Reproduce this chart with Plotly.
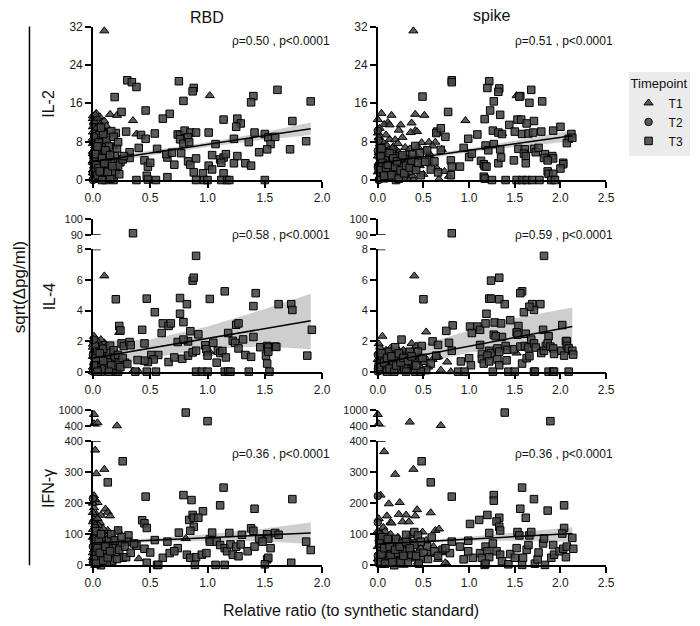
import plotly.graph_objects as go

W, H = 700, 626
FONT = "Arial, 'Liberation Sans', sans-serif"


def px(x):
    return x / W


def py(y):
    return 1 - y / H


# ---------------- DATA (x = relative ratio, y = sqrt(delta pg/ml)) ----------------
panel_titles = ["RBD", "spike"]
row_labels = ["IL-2", "IL-4", "IFN-γ"]
stats_text = ["ρ=0.50 , p<0.0001", "ρ=0.51 , p<0.0001",
              "ρ=0.58 , p<0.0001", "ρ=0.59 , p<0.0001",
              "ρ=0.36 , p<0.0001", "ρ=0.36 , p<0.0001"]
x_ticks_left = [0, 0.5, 1.0, 1.5, 2.0]
x_ticks_right = [0, 0.5, 1.0, 1.5, 2.0, 2.5]
il2_ticks = [0, 8, 16, 24, 32]
il4_ticks_low = [0, 2, 4, 6, 8]
il4_ticks_high = [90, 100]
ifn_ticks_low = [0, 100, 200, 300, 400]
ifn_ticks_high = [400, 1000]

# ---- IL-2 / RBD ----
il2_rbd_t1 = [(0.10, 31.1), (1.02, 17.6), (0.35, 12.4), (0.15, 13.7), (0.21, 13.5), (0.10, 12.3), (0.38, 9.6),
              (0.11, 10.1), (0.13, 7.9), (0.18, 7.0), (0.03, 13.9), (0.06, 13.2), (0.00, 12.8), (0.01, 11.9),
              (0.02, 11.2), (0.04, 10.6), (0.00, 10.0), (0.05, 9.4), (0.01, 8.9), (0.03, 8.3), (0.07, 8.0),
              (0.00, 7.6), (0.02, 7.1), (0.08, 6.8), (0.01, 6.3), (0.04, 5.9), (0.00, 5.5), (0.06, 5.1),
              (0.02, 4.7), (0.09, 4.4), (0.00, 4.0), (0.03, 3.6), (0.05, 3.2), (0.01, 2.9), (0.12, 2.5),
              (0.00, 2.1), (0.04, 1.7), (0.02, 1.3), (0.07, 0.9), (0.00, 0.5), (0.03, 0.1), (0.10, 0.0),
              (0.05, 12.1), (0.08, 10.9), (0.06, 9.1), (0.11, 6.0), (0.14, 4.8), (0.09, 1.9), (0.16, 3.3),
              (0.13, 0.6), (0.02, 0.0), (0.06, 0.0), (0.80, 8.2)]
il2_rbd_t1_near0 = [(0.00, 13.4), (0.01, 12.2), (0.02, 10.0), (0.03, 9.5), (0.00, 8.7), (0.01, 7.9), (0.04, 7.3),
                    (0.02, 6.5), (0.00, 6.0), (0.05, 5.6), (0.01, 4.9), (0.03, 4.4), (0.00, 3.7), (0.02, 3.2),
                    (0.06, 2.7), (0.01, 2.3), (0.04, 1.9), (0.00, 1.5), (0.03, 1.1), (0.05, 0.7), (0.01, 0.3),
                    (0.08, 3.9), (0.07, 5.6), (0.09, 7.4), (0.06, 11.4), (0.04, 12.9), (0.02, 13.6), (0.10, 9.0),
                    (0.11, 8.5), (0.12, 11.2), (0.08, 1.4), (0.07, 0.2), (0.00, 11.1), (0.03, 10.8), (0.05, 9.9),
                    (0.02, 8.1), (0.04, 6.8), (0.06, 4.1), (0.01, 1.9), (0.09, 2.9)]
il2_rbd_t2 = [(0.00, 5.3), (0.01, 3.0), (0.02, 7.4), (0.00, 1.4), (0.03, 0.3), (0.01, 9.1), (0.04, 2.2), (0.00, 0.0)]
il2_rbd_t3 = [(0.30, 20.8), (0.34, 20.4), (0.38, 19.4), (0.75, 20.6), (0.88, 19.2), (0.87, 18.5), (0.79, 16.5),
              (0.19, 17.3), (0.46, 14.5), (0.25, 14.2), (0.67, 13.8), (0.61, 12.8), (1.14, 12.6), (1.26, 12.8),
              (1.29, 11.8), (1.25, 11.1), (1.40, 17.5), (1.38, 16.2), (1.61, 18.8), (1.90, 16.4), (1.74, 12.3),
              (0.29, 10.1), (0.54, 9.7), (0.42, 9.4), (0.46, 8.6), (0.74, 9.5), (0.76, 9.4), (0.80, 10.3),
              (0.85, 9.9), (0.90, 9.9), (0.76, 8.5), (0.79, 7.6), (0.83, 8.9), (0.84, 7.9), (1.01, 9.9),
              (1.07, 7.5), (1.23, 8.6), (1.41, 9.9), (1.50, 9.6), (1.53, 8.9), (1.55, 7.5), (1.59, 9.0),
              (1.36, 7.9), (1.45, 5.8), (1.52, 6.4), (1.72, 6.4), (1.86, 8.1), (0.32, 5.8), (0.40, 6.7),
              (0.56, 6.5), (0.65, 4.7), (0.64, 5.4), (0.69, 5.7), (0.77, 5.6), (0.83, 3.9), (0.85, 3.2),
              (0.90, 4.5), (0.71, 3.2), (1.01, 3.0), (1.04, 2.2), (1.04, 5.2), (1.11, 4.3), (1.14, 4.7),
              (1.12, 3.6), (1.16, 5.4), (1.23, 3.5), (1.26, 5.0), (1.33, 3.5), (1.38, 3.0), (0.45, 4.1),
              (0.48, 2.8), (0.50, 3.6), (0.24, 3.7), (0.20, 2.1), (0.32, 4.6), (0.88, 1.6), (0.96, 1.4),
              (1.14, 1.4), (0.18, 0.0), (0.38, 0.0), (0.47, 0.9), (0.48, 0.1), (0.55, 0.0), (0.65, 0.6),
              (0.90, 0.0), (0.97, 0.0), (1.00, 0.0), (1.12, 0.0), (1.17, 0.0), (1.19, 0.0), (1.50, 0.0),
              (0.18, 0.7), (0.02, 2.2), (0.05, 4.4), (0.08, 3.1), (0.10, 1.2), (0.12, 5.6), (0.14, 2.4),
              (0.16, 3.9), (0.06, 0.5), (0.09, 6.8), (0.04, 1.0), (0.11, 0.0), (0.15, 0.3), (0.13, 4.9),
              (0.07, 2.8), (0.03, 6.1), (0.17, 1.8), (0.19, 5.0), (0.20, 9.8), (0.16, 10.2), (0.22, 3.0),
              (0.01, 3.6), (0.05, 7.8), (0.12, 8.4), (0.08, 0.0), (0.14, 7.0)]
il2_rbd_t3_near0 = [(0.01, 4.7), (0.03, 3.3), (0.05, 2.5), (0.02, 5.4), (0.04, 7.0), (0.06, 1.8), (0.08, 4.6),
                    (0.10, 3.5), (0.11, 6.2), (0.13, 1.7), (0.15, 5.2), (0.17, 2.9), (0.21, 6.6), (0.23, 1.2),
                    (0.26, 4.3), (0.18, 9.0), (0.22, 7.9), (0.27, 5.0), (0.09, 9.6), (0.07, 10.9)]

# ---- IL-2 / spike ----
il2_spike_t1 = [(0.39, 31.1), (1.52, 17.6), (0.96, 12.4), (0.04, 13.9), (0.00, 12.6), (0.15, 13.5), (0.11, 12.0),
                (0.07, 11.6), (0.13, 11.5), (0.25, 11.5), (0.23, 10.4), (0.41, 13.7), (0.51, 13.5), (0.37, 11.9),
                (0.41, 10.3), (0.43, 10.1), (0.36, 9.9), (0.27, 8.9), (0.13, 8.5), (0.19, 8.4), (0.48, 7.8),
                (0.56, 7.9), (0.63, 7.9), (0.65, 2.4), (0.73, 1.8), (0.67, 0.2), (0.78, 0.8), (0.28, 0.2),
                (0.33, 0.2), (0.39, 0.1), (1.36, 9.7), (0.35, 4.0), (0.45, 4.3), (0.57, 5.4), (0.17, 7.0),
                (0.21, 6.1), (0.30, 6.8), (0.09, 9.4), (0.02, 10.8), (0.05, 8.0), (0.10, 7.2), (0.20, 5.2),
                (0.27, 3.6), (0.14, 4.6), (0.32, 2.7), (0.24, 1.8), (0.18, 0.9), (0.06, 3.3), (0.01, 5.7),
                (0.03, 2.1), (0.08, 0.4), (0.12, 6.3), (0.22, 7.6), (0.44, 6.9), (0.52, 6.2), (0.60, 7.1),
                (0.70, 6.4), (0.29, 5.0), (0.38, 3.2), (0.16, 2.8)]
il2_spike_t1_near0 = [(0.00, 9.8), (0.01, 8.9), (0.02, 7.5), (0.03, 6.8), (0.00, 5.0), (0.04, 4.3), (0.01, 3.6),
                      (0.05, 2.6), (0.00, 1.7), (0.02, 0.8), (0.06, 0.0), (0.07, 6.2), (0.08, 4.8), (0.09, 3.0),
                      (0.10, 1.6), (0.11, 5.5), (0.12, 2.4), (0.14, 0.6), (0.15, 3.9), (0.16, 6.6), (0.18, 2.2),
                      (0.19, 4.2), (0.21, 1.3), (0.22, 3.3), (0.23, 5.8), (0.26, 2.5), (0.28, 4.6), (0.31, 1.5),
                      (0.33, 5.4), (0.35, 6.5), (0.38, 0.9), (0.40, 2.3), (0.42, 5.1), (0.46, 3.0), (0.50, 1.2)]
il2_spike_t2 = [(0.00, 10.3), (0.01, 8.2), (0.00, 6.1), (0.02, 4.5), (0.00, 2.7), (0.03, 1.2), (0.01, 0.0), (0.05, 5.2)]
il2_spike_t3 = [(0.81, 20.8), (0.81, 20.4), (1.22, 20.6), (1.20, 19.2), (1.33, 19.1), (1.32, 18.4), (1.68, 18.8),
                (1.27, 16.4), (1.56, 17.5), (1.55, 17.4), (1.66, 16.1), (1.80, 16.4), (0.49, 17.4), (0.77, 14.2),
                (1.23, 14.5), (1.34, 13.6), (1.17, 12.7), (1.53, 12.6), (1.57, 12.6), (1.71, 12.3), (1.63, 11.8),
                (1.44, 11.5), (2.00, 11.1), (0.65, 10.1), (0.64, 9.8), (0.69, 10.8), (0.74, 9.0), (0.99, 8.6),
                (1.09, 9.5), (1.26, 10.3), (1.32, 9.9), (1.36, 9.6), (1.50, 10.1), (1.58, 9.6), (1.65, 9.7),
                (1.70, 9.9), (1.79, 10.1), (1.92, 10.3), (2.12, 9.6), (2.09, 8.6), (2.07, 7.7), (2.13, 8.8),
                (0.94, 6.7), (1.18, 7.2), (1.21, 6.2), (1.27, 7.5), (1.34, 6.4), (1.54, 6.5), (1.61, 6.4),
                (1.71, 6.5), (1.73, 5.8), (1.76, 6.7), (1.60, 5.5), (1.62, 5.0), (1.83, 5.4), (1.82, 4.6),
                (1.91, 5.0), (1.92, 4.5), (0.41, 7.1), (0.38, 5.3), (0.54, 6.2), (0.56, 4.1), (0.69, 6.3),
                (0.80, 4.1), (0.81, 2.8), (0.90, 2.8), (1.00, 4.8), (1.03, 5.5), (1.13, 4.0), (1.16, 3.3),
                (1.17, 2.9), (1.19, 2.8), (1.32, 3.5), (1.35, 4.7), (1.49, 4.1), (1.62, 3.5), (1.86, 4.1),
                (2.03, 3.6), (2.03, 3.3), (2.00, 2.4), (1.86, 1.8), (1.87, 1.3), (1.92, 1.3), (0.47, 1.0),
                (0.80, 1.0), (1.16, 0.7), (1.17, 0.3), (1.25, 0.0), (1.40, 0.0), (1.52, 0.0), (1.58, 0.0),
                (1.63, 0.0), (1.69, 0.0), (1.77, 0.0), (1.90, 0.0), (1.94, 0.0), (0.02, 3.0), (0.06, 1.5),
                (0.10, 4.1), (0.14, 2.2), (0.18, 3.7), (0.22, 1.1), (0.26, 2.9), (0.30, 4.4), (0.34, 1.9),
                (0.08, 5.8), (0.12, 0.5), (0.04, 6.6), (0.20, 0.0), (0.28, 0.6), (0.16, 5.0), (0.33, 3.4),
                (0.24, 4.9)]
il2_spike_t3_near0 = [(0.01, 2.3), (0.03, 4.9), (0.05, 3.6), (0.07, 0.9), (0.09, 2.6), (0.11, 3.2), (0.13, 5.6),
                      (0.15, 1.0), (0.17, 4.5), (0.19, 2.7), (0.21, 3.9), (0.23, 0.3), (0.25, 2.0), (0.27, 5.2),
                      (0.29, 1.4), (0.31, 3.0), (0.35, 2.6), (0.37, 4.0), (0.42, 2.1), (0.44, 3.6), (0.46, 5.6),
                      (0.52, 3.8), (0.58, 2.2), (0.62, 3.9), (0.66, 1.6)]

# ---- IL-4 / RBD ----
il4_rbd_t1 = [(0.10, 6.27), (0.23, 2.57), (0.01, 2.32), (0.10, 1.89), (0.07, 2.10), (0.35, 0.04), (0.40, 0.0),
              (1.00, 1.20), (1.02, 1.30), (0.00, 1.60), (0.02, 1.20), (0.04, 0.90), (0.01, 0.60), (0.06, 1.40),
              (0.03, 0.30), (0.08, 0.80), (0.00, 0.0), (0.05, 1.90), (0.12, 1.10), (0.02, 0.50), (0.15, 0.70),
              (0.09, 0.20), (0.00, 1.00), (0.04, 1.50), (0.11, 1.60), (0.06, 0.0), (0.13, 0.40), (0.17, 1.30),
              (0.01, 2.00), (0.07, 0.60), (0.03, 1.80), (0.14, 0.10), (0.18, 0.90)]
il4_rbd_t1_near0 = [(0.00, 0.3), (0.01, 1.4), (0.02, 0.9), (0.03, 0.6), (0.04, 0.2), (0.05, 1.1), (0.06, 0.8),
                    (0.07, 1.7), (0.08, 0.0), (0.09, 1.2), (0.10, 0.6), (0.11, 0.9), (0.00, 1.8), (0.01, 1.0),
                    (0.02, 0.0), (0.03, 1.3), (0.05, 0.5), (0.12, 0.0), (0.16, 1.0), (0.19, 0.5)]
il4_rbd_t2 = [(0.00, 1.10), (0.01, 0.40), (0.02, 1.70), (0.00, 0.0), (0.03, 0.80), (0.01, 2.10)]
il4_rbd_t3 = [(0.35, 91.0), (0.90, 7.58), (0.87, 5.96), (0.88, 6.15), (1.15, 5.26), (1.42, 5.14), (0.20, 4.74),
              (0.47, 4.78), (0.76, 4.82), (0.82, 4.42), (1.02, 4.76), (1.62, 4.42), (1.73, 4.42), (1.74, 4.04),
              (1.40, 4.29), (0.54, 3.89), (0.76, 3.79), (0.61, 3.16), (0.66, 2.99), (0.68, 3.16), (0.79, 3.24),
              (0.23, 2.99), (0.24, 2.70), (0.43, 2.74), (0.60, 2.53), (0.85, 2.65), (0.92, 2.44), (1.18, 2.53),
              (1.25, 3.07), (1.27, 3.16), (1.31, 2.11), (1.40, 2.27), (1.91, 2.74), (0.25, 1.85), (0.27, 1.68),
              (0.32, 1.94), (0.33, 1.73), (0.45, 1.85), (0.57, 1.09), (0.66, 0.63), (0.71, 0.93), (0.78, 0.84),
              (0.74, 1.94), (0.83, 1.98), (0.79, 2.10), (0.83, 1.05), (0.87, 1.26), (0.90, 1.37), (0.98, 1.73),
              (0.99, 1.47), (1.05, 1.89), (1.00, 1.05), (1.08, 0.59), (1.09, 1.37), (1.11, 1.22), (1.13, 1.35),
              (1.16, 0.93), (1.22, 2.02), (1.24, 1.89), (1.27, 1.52), (1.33, 1.09), (1.38, 0.97), (1.46, 1.60),
              (1.52, 1.68), (1.53, 1.58), (1.52, 0.53), (1.51, 1.05), (1.53, 1.31), (1.59, 1.64), (1.60, 1.62),
              (1.87, 1.05), (0.51, 1.09), (0.53, 0.80), (0.48, 0.63), (0.45, 0.72), (0.39, 0.76), (0.28, 0.59),
              (0.20, 0.0), (0.22, 0.0), (0.37, 0.0), (0.47, 0.0), (0.55, 0.0), (0.90, 0.0), (0.95, 0.0),
              (1.00, 0.0), (1.15, 0.0), (1.18, 0.0), (1.20, 0.0), (1.36, 0.0), (1.54, 0.0), (0.02, 0.70),
              (0.05, 0.30), (0.08, 1.00), (0.11, 0.50), (0.14, 1.20), (0.04, 1.30), (0.17, 0.20), (0.07, 0.0),
              (0.12, 0.80), (0.19, 1.00), (0.09, 1.50), (0.03, 0.10), (0.15, 1.70), (0.21, 0.40)]
il4_rbd_t3_near0 = [(0.01, 0.4), (0.03, 0.9), (0.06, 1.2), (0.10, 0.2), (0.13, 0.6), (0.16, 0.4), (0.18, 1.4),
                    (0.22, 1.1), (0.24, 0.3), (0.26, 0.9), (0.30, 0.5), (0.04, 0.0), (0.09, 0.7), (0.14, 0.0)]

# ---- IL-4 / spike ----
il4_spike_t1 = [(0.40, 6.27), (0.53, 2.60), (0.05, 2.32), (0.01, 1.83), (0.14, 1.54), (0.23, 1.37), (0.30, 1.26),
                (0.37, 1.85), (0.42, 1.68), (0.65, 0.95), (0.66, 1.00), (0.76, 0.63), (0.80, 0.0), (0.69, 0.10),
                (1.52, 1.22), (0.41, 0.0), (0.46, 0.0), (0.02, 1.20), (0.04, 0.70), (0.07, 1.00), (0.10, 0.40),
                (0.12, 0.90), (0.15, 0.20), (0.18, 1.10), (0.20, 0.60), (0.24, 0.90), (0.27, 0.30), (0.31, 0.80),
                (0.34, 0.50), (0.36, 1.20), (0.09, 1.40), (0.06, 0.0), (0.13, 0.0), (0.22, 0.0), (0.28, 1.40),
                (0.33, 0.10), (0.01, 0.50), (0.16, 0.70), (0.25, 1.10), (0.38, 0.90), (0.45, 1.10), (0.50, 0.60),
                (0.55, 0.30), (0.60, 0.80)]
il4_spike_t1_near0 = [(0.00, 0.8), (0.01, 1.3), (0.02, 0.3), (0.03, 1.0), (0.04, 0.0), (0.05, 0.6), (0.06, 1.3),
                      (0.08, 0.7), (0.09, 0.1), (0.11, 1.1), (0.12, 0.4), (0.14, 0.9), (0.16, 0.0), (0.17, 1.3),
                      (0.19, 0.3), (0.21, 0.8), (0.23, 0.6), (0.26, 0.0), (0.29, 0.9), (0.32, 0.4), (0.35, 0.8),
                      (0.40, 0.3), (0.43, 0.7), (0.48, 0.2), (0.52, 0.9)]
il4_spike_t2 = [(0.00, 1.10), (0.01, 0.60), (0.00, 0.20), (0.02, 1.50), (0.03, 0.90), (0.00, 0.0)]
il4_spike_t3 = [(0.81, 91.0), (1.82, 7.58), (1.33, 6.15), (1.24, 5.96), (1.58, 5.26), (1.56, 5.14), (0.50, 4.74),
                (1.22, 4.78), (1.24, 4.78), (1.33, 4.74), (1.39, 4.42), (1.69, 4.42), (1.78, 4.42), (1.71, 4.04),
                (1.66, 4.25), (1.60, 3.89), (1.19, 3.79), (1.09, 2.95), (1.01, 2.95), (0.82, 3.03), (0.75, 2.67),
                (1.03, 2.53), (1.12, 2.74), (1.18, 3.16), (1.28, 3.22), (1.35, 3.16), (1.45, 3.37), (1.54, 2.99),
                (1.52, 2.57), (1.53, 2.42), (1.62, 2.48), (1.81, 2.74), (2.02, 3.05), (1.87, 2.32), (1.36, 2.27),
                (1.27, 2.42), (1.29, 2.32), (0.26, 2.10), (0.48, 1.68), (0.60, 1.98), (0.66, 1.75), (0.78, 1.89),
                (0.81, 1.37), (1.12, 1.75), (1.14, 1.16), (1.22, 1.37), (1.24, 1.22), (1.31, 1.52), (1.33, 1.31),
                (1.40, 1.68), (1.42, 1.43), (1.49, 1.47), (1.56, 1.64), (1.61, 1.68), (1.65, 1.58), (1.68, 2.10),
                (1.71, 1.85), (1.73, 1.58), (1.79, 1.22), (1.82, 1.37), (1.84, 1.68), (1.86, 1.85), (1.89, 1.64),
                (1.92, 1.52), (1.93, 1.16), (2.01, 1.37), (2.04, 1.05), (2.06, 2.00), (2.07, 2.00), (2.07, 1.68),
                (2.09, 1.52), (2.13, 1.37), (2.14, 1.12), (0.91, 0.67), (1.00, 0.88), (1.02, 0.42), (1.14, 0.84),
                (1.16, 0.53), (1.20, 1.05), (1.22, 0.67), (1.31, 0.80), (1.33, 0.42), (1.41, 0.74), (1.58, 0.53),
                (1.63, 0.88), (1.66, 1.01), (0.58, 0.53), (0.64, 1.05), (0.53, 0.10), (0.41, 0.0), (0.47, 0.0),
                (0.88, 0.0), (0.95, 0.0), (1.26, 0.0), (1.43, 0.0), (1.50, 0.0), (1.71, 0.0), (1.72, 0.0),
                (1.87, 0.0), (1.92, 0.0), (1.93, 0.0), (2.09, 0.0), (0.03, 0.80), (0.08, 0.30), (0.12, 1.30),
                (0.17, 0.50), (0.21, 1.00), (0.29, 0.20), (0.35, 1.30), (0.39, 0.60), (0.44, 1.30), (0.10, 0.0),
                (0.19, 1.60), (0.05, 1.00)]
il4_spike_t3_near0 = [(0.01, 0.3), (0.04, 1.2), (0.07, 0.6), (0.10, 0.9), (0.13, 0.2), (0.15, 1.0), (0.18, 0.0),
                      (0.20, 0.4), (0.23, 1.2), (0.25, 0.6), (0.28, 0.9), (0.31, 0.0), (0.33, 0.7), (0.37, 1.0),
                      (0.42, 0.4), (0.49, 0.9)]

# ---- IFN-gamma / RBD ----
ifn_rbd_t1 = [(0.01, 833), (0.01, 500), (0.04, 533), (0.21, 422), (0.02, 371), (0.03, 295), (0.10, 309),
              (0.01, 224), (0.04, 202), (0.11, 181), (0.13, 171), (0.15, 159), (0.03, 164), (0.07, 161),
              (0.01, 148), (0.06, 138), (0.13, 112), (0.22, 112), (0.08, 107), (0.04, 96), (0.81, 86),
              (0.40, 21), (0.02, 212), (0.05, 128), (0.09, 118), (0.00, 90), (0.02, 75), (0.05, 62),
              (0.01, 50), (0.03, 38), (0.07, 82), (0.10, 70), (0.00, 25), (0.04, 12), (0.12, 55), (0.06, 5),
              (0.15, 40), (0.02, 100), (0.09, 30), (0.18, 90), (0.00, 140), (0.01, 185)]
ifn_rbd_t1_near0 = [(0.00, 115), (0.01, 95), (0.02, 60), (0.00, 40), (0.01, 15), (0.02, 130), (0.03, 105),
                    (0.04, 75), (0.05, 45), (0.00, 170), (0.01, 70), (0.03, 20), (0.06, 95), (0.07, 30),
                    (0.08, 50), (0.02, 0), (0.00, 200), (0.04, 150), (0.11, 85), (0.14, 100)]
ifn_rbd_t2 = [(0.00, 60), (0.01, 30), (0.02, 120), (0.00, 10), (0.03, 80), (0.00, 215)]
ifn_rbd_t3 = [(0.81, 900), (1.00, 589), (0.26, 335), (0.13, 267), (0.46, 221), (0.79, 226), (0.86, 210),
              (1.14, 250), (1.11, 193), (0.96, 174), (1.41, 182), (1.74, 213), (0.84, 146), (0.87, 162),
              (0.88, 153), (0.92, 153), (0.88, 124), (0.43, 145), (0.45, 135), (0.47, 120), (0.75, 105),
              (0.85, 111), (1.02, 83), (1.04, 105), (1.19, 104), (1.30, 98), (1.38, 119), (1.40, 111),
              (1.52, 100), (1.53, 86), (1.59, 104), (1.62, 98), (1.86, 76), (1.90, 49), (0.22, 112),
              (0.31, 96), (0.30, 76), (0.38, 63), (0.45, 53), (0.50, 41), (0.54, 81), (0.61, 24), (0.65, 76),
              (0.67, 39), (0.74, 55), (0.71, 45), (0.82, 34), (0.85, 24), (0.90, 26), (0.95, 34), (0.99, 39),
              (1.02, 76), (1.08, 76), (1.11, 65), (1.15, 55), (1.17, 45), (1.20, 67), (1.25, 60), (1.22, 34),
              (1.27, 29), (1.29, 67), (1.35, 45), (1.41, 60), (1.45, 86), (1.48, 76), (1.55, 55), (1.52, 19),
              (1.53, 24), (1.73, 8), (0.89, 1), (0.56, 1), (0.57, 1), (1.07, 1), (1.15, 1), (1.50, 3),
              (0.26, 24), (0.29, 26), (0.20, 39), (0.14, 55), (0.18, 65), (0.47, 8), (0.02, 45), (0.05, 20),
              (0.08, 65), (0.11, 35), (0.14, 80), (0.04, 95), (0.17, 15), (0.07, 0), (0.12, 10), (0.20, 55),
              (0.24, 70), (0.16, 100), (0.10, 48), (0.03, 70)]
ifn_rbd_t3_near0 = [(0.01, 20), (0.01, 85), (0.02, 110), (0.03, 5), (0.04, 55), (0.05, 80), (0.06, 40),
                    (0.07, 100), (0.09, 15), (0.11, 60), (0.13, 25), (0.15, 45), (0.19, 80), (0.21, 20),
                    (0.23, 50), (0.25, 90), (0.28, 60), (0.33, 40), (0.36, 70)]

# ---- IFN-gamma / spike ----
ifn_spike_t1 = [(0.00, 833), (0.01, 500), (0.35, 556), (0.69, 433), (0.07, 366), (0.19, 293), (0.39, 309),
                (0.24, 202), (0.12, 198), (0.03, 226), (0.43, 179), (0.58, 169), (0.23, 164), (0.31, 162),
                (0.27, 140), (0.34, 140), (0.41, 159), (0.10, 159), (0.14, 138), (0.15, 136), (0.06, 122),
                (0.08, 109), (0.49, 107), (0.63, 112), (0.67, 117), (0.12, 86), (0.66, 19), (0.76, 3),
                (0.02, 95), (0.05, 70), (0.09, 55), (0.13, 40), (0.17, 75), (0.21, 60), (0.25, 30), (0.29, 50),
                (0.33, 85), (0.37, 20), (0.41, 65), (0.45, 45), (0.53, 80), (0.57, 35), (0.61, 60), (0.70, 40),
                (0.00, 20), (0.04, 0), (0.11, 10), (0.20, 5), (0.28, 0), (0.35, 95), (0.47, 55), (0.71, 50),
                (0.74, 8)]
ifn_spike_t1_near0 = [(0.00, 60), (0.01, 40), (0.00, 110), (0.02, 75), (0.03, 30), (0.01, 150), (0.04, 100),
                      (0.06, 50), (0.07, 80), (0.08, 20), (0.10, 65), (0.12, 30), (0.14, 100), (0.16, 50),
                      (0.18, 20), (0.22, 90), (0.26, 70), (0.30, 25), (0.32, 60), (0.39, 40), (0.44, 10)]
ifn_spike_t2 = [(0.00, 223), (0.00, 138), (0.01, 100), (0.02, 60), (0.00, 30), (0.03, 5), (0.01, 80)]
ifn_spike_t3 = [(1.39, 900), (1.89, 589), (0.48, 335), (0.58, 267), (0.81, 221), (1.58, 250), (1.71, 213),
                (2.04, 193), (1.86, 176), (1.56, 182), (1.62, 153), (1.27, 226), (1.27, 208), (1.20, 162),
                (1.11, 146), (1.01, 133), (1.33, 153), (1.30, 141), (1.33, 124), (1.34, 112), (1.22, 104),
                (1.53, 107), (1.55, 96), (1.66, 96), (1.68, 107), (2.04, 120), (2.02, 102), (2.13, 88),
                (0.99, 79), (0.81, 76), (0.59, 89), (0.40, 107), (0.44, 96), (0.31, 98), (0.54, 60), (0.47, 76),
                (0.38, 70), (0.71, 50), (0.79, 39), (0.90, 60), (0.94, 19), (1.04, 24), (0.99, 45), (1.12, 39),
                (1.14, 24), (1.18, 60), (1.20, 45), (1.22, 26), (1.17, 1), (1.18, 5), (1.26, 70), (1.30, 45),
                (1.34, 34), (1.36, 13), (1.43, 3), (1.45, 36), (1.50, 24), (1.52, 55), (1.58, 1), (1.59, 24),
                (1.63, 50), (1.65, 65), (1.72, 5), (1.75, 19), (1.76, 41), (1.81, 70), (1.82, 86), (1.83, 1),
                (1.90, 24), (1.93, 34), (1.92, 65), (1.99, 45), (2.03, 53), (2.06, 26), (2.07, 60), (2.14, 53),
                (0.74, 55), (0.30, 45), (0.37, 34), (0.47, 21), (0.26, 19), (0.17, 34), (0.40, 65), (0.03, 50),
                (0.06, 25), (0.09, 75), (0.12, 15), (0.15, 60), (0.20, 85), (0.22, 40), (0.27, 70), (0.33, 10),
                (0.05, 90), (0.10, 40), (0.18, 0)]
ifn_spike_t3_near0 = [(0.01, 10), (0.02, 70), (0.04, 35), (0.07, 55), (0.08, 5), (0.11, 85), (0.13, 60),
                      (0.14, 30), (0.16, 10), (0.19, 50), (0.24, 60), (0.25, 10), (0.28, 30), (0.31, 75),
                      (0.35, 55), (0.42, 30), (0.45, 5), (0.50, 40), (0.55, 20), (0.62, 45), (0.66, 30)]

# ---- Regression line endpoints and confidence band ----
fit_x_rbd = [0.0, 0.5, 1.0, 1.5, 1.90]
fit_x_spike = [0.0, 0.5, 1.0, 1.5, 2.13]
il2_rbd_fit = [3.8, 5.6, 7.4, 9.2, 10.7]
il2_rbd_hi = [4.6, 6.1, 7.9, 10.0, 12.0]
il2_rbd_lo = [3.0, 5.1, 6.9, 8.4, 9.4]
il2_spike_fit = [3.5, 4.85, 6.2, 7.55, 9.25]
il2_spike_hi = [4.2, 5.3, 6.6, 8.2, 10.4]
il2_spike_lo = [2.8, 4.4, 5.8, 6.9, 8.1]
il4_rbd_fit = [0.9, 1.54, 2.18, 2.82, 3.33]
il4_rbd_hi = [2.0, 2.1, 2.95, 4.1, 5.1]
il4_rbd_lo = [0.1, 0.9, 1.5, 1.65, 1.47]
il4_spike_fit = [0.54, 1.1, 1.67, 2.24, 2.95]
il4_spike_hi = [1.4, 1.8, 2.7, 3.5, 4.2]
il4_spike_lo = [0.0, 0.55, 1.25, 1.55, 1.4]
ifn_rbd_fit = [72, 80.5, 89, 97.5, 104]
ifn_rbd_hi = [80, 86, 100, 118, 138]
ifn_rbd_lo = [64, 75, 78, 77, 68]
ifn_spike_fit = [68, 76, 84, 92, 102]
ifn_spike_hi = [74, 80, 92, 106, 122]
ifn_spike_lo = [62, 72, 77, 79, 76]

# ---------------- FIGURE ----------------
fig = go.Figure()

MARK_FILL = "rgba(70,70,70,0.88)"
symbols = {"T1": "triangle-up", "T2": "circle", "T3": "square"}
sizes = {"T1": 8, "T2": 7.5, "T3": 7.5}

xdom = [[px(87), px(322)], [px(379), px(613)]]
rows = [
    dict(low=[py(177), py(20)], high=None),
    dict(low=[py(373), py(248)], high=[py(233), py(217)]),
    dict(low=[py(571), py(444)], high=[py(429), py(412)]),
]

panels = [
    dict(t1=il2_rbd_t1 + il2_rbd_t1_near0, t2=il2_rbd_t2, t3=il2_rbd_t3 + il2_rbd_t3_near0,
         fx=fit_x_rbd, fit=il2_rbd_fit, hi=il2_rbd_hi, lo=il2_rbd_lo),
    dict(t1=il2_spike_t1 + il2_spike_t1_near0, t2=il2_spike_t2, t3=il2_spike_t3 + il2_spike_t3_near0,
         fx=fit_x_spike, fit=il2_spike_fit, hi=il2_spike_hi, lo=il2_spike_lo),
    dict(t1=il4_rbd_t1 + il4_rbd_t1_near0, t2=il4_rbd_t2, t3=il4_rbd_t3 + il4_rbd_t3_near0,
         fx=fit_x_rbd, fit=il4_rbd_fit, hi=il4_rbd_hi, lo=il4_rbd_lo),
    dict(t1=il4_spike_t1 + il4_spike_t1_near0, t2=il4_spike_t2, t3=il4_spike_t3 + il4_spike_t3_near0,
         fx=fit_x_spike, fit=il4_spike_fit, hi=il4_spike_hi, lo=il4_spike_lo),
    dict(t1=ifn_rbd_t1 + ifn_rbd_t1_near0, t2=ifn_rbd_t2, t3=ifn_rbd_t3 + ifn_rbd_t3_near0,
         fx=fit_x_rbd, fit=ifn_rbd_fit, hi=ifn_rbd_hi, lo=ifn_rbd_lo),
    dict(t1=ifn_spike_t1 + ifn_spike_t1_near0, t2=ifn_spike_t2, t3=ifn_spike_t3 + ifn_spike_t3_near0,
         fx=fit_x_spike, fit=ifn_spike_fit, hi=ifn_spike_hi, lo=ifn_spike_lo),
]

row_low_range = [[0, 32], [0, 8], [0, 400]]
row_low_ticks = [il2_ticks, il4_ticks_low, ifn_ticks_low]
row_high_range = [None, [90, 100], [400, 1000]]
row_high_ticks = [None, il4_ticks_high, ifn_ticks_high]

axis_common = dict(showline=True, linecolor="black", linewidth=1.5, ticks="outside", ticklen=6,
                   tickwidth=1.5, tickcolor="black", showgrid=False, zeroline=False,
                   tickfont=dict(size=12, color="#1a1a1a", family=FONT), fixedrange=True)

layout_axes = {}
shapes = []
high_axis_counter = 7
for i, p in enumerate(panels):
    r, c = divmod(i, 2)
    k = i + 1
    xname = "x" if k == 1 else f"x{k}"
    yname = "y" if k == 1 else f"y{k}"
    xr = [0, 2.0] if c == 0 else [0, 2.5]
    xt = x_ticks_left if c == 0 else x_ticks_right
    layout_axes["xaxis" if k == 1 else f"xaxis{k}"] = dict(
        axis_common, domain=xdom[c], range=xr, tickvals=xt, ticktext=[f"{v:.1f}" for v in xt], anchor=yname)
    low_font = dict(size=12 if r == 0 else 11, color="#1a1a1a", family=FONT)
    layout_axes["yaxis" if k == 1 else f"yaxis{k}"] = dict(
        axis_common, domain=rows[r]["low"], range=row_low_range[r], tickvals=row_low_ticks[r],
        ticktext=[str(v) for v in row_low_ticks[r]], anchor=xname, tickfont=low_font)
    yhigh = None
    if rows[r]["high"] is not None:
        yhigh = f"y{high_axis_counter}"
        layout_axes[f"yaxis{high_axis_counter}"] = dict(
            axis_common, domain=rows[r]["high"], range=row_high_range[r], tickvals=row_high_ticks[r],
            ticktext=[str(v) for v in row_high_ticks[r]], anchor=xname,
            tickfont=dict(size=11, color="#1a1a1a", family=FONT))
        high_axis_counter += 1
        # break marks extending right of the axis
        dw = (xdom[c][1] - xdom[c][0]) * W
        shapes.append(dict(type="line", xref=f"{xname} domain", yref=yname, x0=0, x1=8 / dw,
                           y0=row_low_range[r][1], y1=row_low_range[r][1], line=dict(color="black", width=1.5)))
        shapes.append(dict(type="line", xref=f"{xname} domain", yref=yhigh, x0=0, x1=8 / dw,
                           y0=row_high_range[r][0], y1=row_high_range[r][0], line=dict(color="black", width=1.5)))

    # confidence band
    bx = p["fx"] + p["fx"][::-1]
    by = p["hi"] + p["lo"][::-1]
    fig.add_trace(go.Scatter(x=bx, y=by, xaxis=xname, yaxis=yname, fill="toself",
                             fillcolor="rgba(190,190,190,0.75)", line=dict(width=0), mode="lines",
                             showlegend=False, hoverinfo="skip"))
    # points
    cut = row_low_range[r][1]
    for tname in ["T1", "T2", "T3"]:
        pts = p[tname.lower()]
        low = [(a, b) for a, b in pts if b <= cut]
        high = [(a, b) for a, b in pts if b > cut]
        mk = dict(symbol=symbols[tname], size=sizes[tname], color=MARK_FILL,
                  line=dict(color="black", width=1))
        fig.add_trace(go.Scatter(x=[a for a, b in low], y=[b for a, b in low], xaxis=xname, yaxis=yname,
                                 mode="markers", marker=mk, name=tname, legendgroup=tname,
                                 showlegend=(i == 0), cliponaxis=False))
        if yhigh is not None and high:
            fig.add_trace(go.Scatter(x=[a for a, b in high], y=[b for a, b in high], xaxis=xname,
                                     yaxis=yhigh, mode="markers", marker=mk, name=tname,
                                     legendgroup=tname, showlegend=False, cliponaxis=False))
    # fit line
    fig.add_trace(go.Scatter(x=[p["fx"][0], p["fx"][-1]], y=[p["fit"][0], p["fit"][-1]], xaxis=xname,
                             yaxis=yname, mode="lines", line=dict(color="black", width=1.5),
                             showlegend=False, hoverinfo="skip"))

annotations = []
TXT = "#111"
# column titles
annotations.append(dict(text=panel_titles[0], x=px(204), y=py(11), xref="paper", yref="paper",
                        xanchor="center", yanchor="middle",
                        showarrow=False, font=dict(size=16, family=FONT, color=TXT)))
annotations.append(dict(text=panel_titles[1], x=px(496), y=py(9), xref="paper", yref="paper",
                        xanchor="center", yanchor="middle",
                        showarrow=False, font=dict(size=16, family=FONT, color=TXT)))
# row labels
for lab, yc in zip(row_labels, [99, 296, 492]):
    annotations.append(dict(text=lab, x=px(42), y=py(yc), xref="paper", yref="paper", textangle=-90,
                            xanchor="center", yanchor="middle",
                            showarrow=False, font=dict(size=16, family=FONT, color=TXT)))
annotations.append(dict(text="sqrt(Δpg/ml)", x=px(12), y=py(286), xref="paper", yref="paper", textangle=-90,
                        xanchor="center", yanchor="middle",
                        showarrow=False, font=dict(size=17, family=FONT, color=TXT)))
annotations.append(dict(text="Relative ratio (to synthetic standard)", x=px(352), y=py(617), xref="paper",
                        yref="paper", xanchor="center", yanchor="middle",
                        showarrow=False, font=dict(size=16, family=FONT, color=TXT)))
# statistics
for i, s in enumerate(stats_text):
    r, c = divmod(i, 2)
    annotations.append(dict(text=s, x=px(332 if c == 0 else 622), y=py([35, 233, 457][r]), xref="paper",
                            yref="paper", xanchor="right", yanchor="middle", showarrow=False,
                            font=dict(size=12, family=FONT, color=TXT)))

shapes.append(dict(type="line", xref="paper", yref="paper", x0=px(22), x1=px(22), y0=py(20), y1=py(571),
                   line=dict(color="black", width=1.5)))

fig.update_layout(
    width=W, height=H, margin=dict(l=0, r=0, t=0, b=0),
    paper_bgcolor="white", plot_bgcolor="rgba(0,0,0,0)",
    font=dict(family=FONT, size=12, color=TXT),
    showlegend=True,
    legend=dict(x=px(636), y=py(66), xanchor="left", yanchor="top", bgcolor="#ebebeb",
                title=dict(text="Timepoint", font=dict(size=13, family=FONT)),
                font=dict(size=12, family=FONT), borderwidth=0, tracegroupgap=0,
                itemwidth=30),
    annotations=annotations,
    shapes=shapes,
    **layout_axes,
)

fig.write_html("out.html", post_script="document.body.style.margin='0px';document.body.style.overflow='hidden';")
